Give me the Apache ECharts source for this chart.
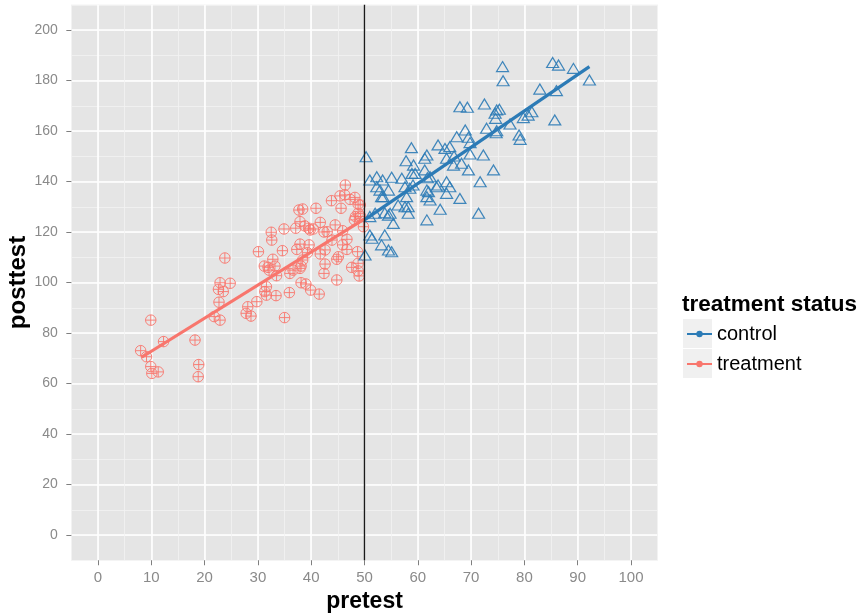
<!DOCTYPE html>
<html>
<head>
<meta charset="utf-8">
<script src="https://cdn.jsdelivr.net/npm/echarts@6/dist/echarts.min.js"></script>
<style>html,body{margin:0;padding:0;background:#fff;}#c{width:861px;height:613px;}</style>
</head>
<body>
<div id="c"></div>
<script>
// ---- data ----
const treatPre = [8.0,9.1,9.9,9.9,10.1,11.3,12.3,18.2,18.9,18.8,23.8,22.9,22.6,23.5,24.8,22.7,21.8,22.9,27.8,28.1,28.7,29.8,30.1,31.6,31.3,31.6,33.4,35.0,35.9,31.2,31.9,32.8,33.2,33.5,32.1,34.6,32.5,32.6,34.9,36.0,36.6,37.3,37.9,37.1,37.9,37.7,38.4,38.1,37.9,38.4,38.1,39.0,39.9,41.5,38.8,39.5,40.4,39.6,39.3,41.7,40.9,41.7,42.6,42.6,42.4,42.4,43.0,44.5,43.9,44.8,45.1,44.8,45.6,43.8,45.4,46.4,46.3,47.3,48.2,45.9,46.7,45.9,48.7,47.6,48.8,48.8,49.0,49.2,48.8,48.3,49.3,49.8,48.1,48.8,46.7,39.8];
const treatPost = [73.0,70.6,85.1,66.7,64.0,64.6,76.6,77.2,67.5,62.7,109.7,99.9,97.3,96.4,99.7,92.2,86.5,85.1,87.8,90.4,86.7,92.4,112.2,98.3,96.4,95.0,94.8,86.1,96.0,106.5,106.0,109.2,106.5,102.7,104.9,112.6,119.9,116.8,121.2,103.6,104.9,113.1,115.2,121.5,124.1,128.7,129.1,106.5,105.6,108.9,99.9,99.4,97.0,95.4,122.4,121.5,121.2,114.9,111.8,123.8,129.4,111.3,112.9,107.3,103.6,120.0,120.1,122.8,116.8,109.2,110.2,101.0,129.4,132.4,134.3,138.6,134.7,132.9,133.7,120.5,117.1,114.9,112.2,106.0,107.6,104.6,102.6,130.7,127.4,126.1,126.1,122.1,124.8,131.0,113.1,120.8];
const ctrlPre = [75.9,76.0,85.3,86.4,89.2,92.2,86.0,82.9,85.7,81.4,80.7,79.8,79.0,79.2,77.3,74.8,75.3,74.6,74.5,72.5,67.9,69.3,72.9,74.8,68.9,67.3,69.5,69.8,66.0,63.8,72.3,65.4,66.8,68.2,69.5,69.8,61.7,61.3,58.8,57.8,59.2,59.5,58.9,61.3,61.8,62.3,74.2,71.7,50.3,51.0,52.3,53.4,55.1,57.0,52.3,52.9,54.5,53.5,53.2,57.6,58.5,59.1,57.9,63.5,65.4,66.0,62.0,61.7,62.3,65.4,67.9,64.2,71.4,61.7,58.2,57.6,56.3,54.8,55.4,53.8,51.0,52.0,53.8,53.2,54.5,55.1,51.0,51.4,50.1,63.8,61.7,74.7,54.5,58.2,65.1,66.7];
const ctrlPost = [185.5,179.9,187.1,186.1,184.8,180.2,176.0,176.6,164.4,167.6,166.3,165.3,158.4,156.7,162.8,168.3,168.6,165.0,167.0,170.7,169.6,169.4,161.1,160.1,160.4,157.7,157.5,155.4,153.8,154.5,150.5,149.2,150.1,147.2,144.6,150.9,150.5,149.2,153.4,148.2,146.5,143.2,143.2,144.6,141.5,141.9,144.6,139.9,149.8,140.6,141.9,140.6,141.7,141.3,137.9,136.6,136.6,134.0,134.0,137.9,137.3,138.6,134.0,137.9,139.9,137.9,136.0,134.0,132.7,135.3,133.3,129.0,127.4,124.8,127.4,130.0,130.7,127.4,123.4,127.6,126.1,127.4,118.8,114.9,112.9,112.2,118.8,117.5,110.9,138.6,136.6,159.3,126.7,130.0,153.1,146.5];
const treatFitX = [8.2, 50.0];
const treatFitY = [70.4, 125.2];
const ctrlFitX = [50.0, 92.2];
const ctrlFitY = [124.8, 185.5];
const cutoff = 50;
const xTicks = [0,10,20,30,40,50,60,70,80,90,100];
const yTicks = [0,20,40,60,80,100,120,140,160,180,200];

// ---- layout ----
const X0 = -5, X1 = 105, Y0 = -10, Y1 = 210;
const PL = 71.35, PT = 4.75, PW = 586.3, PH = 555.5;
const sx = PW / (X1 - X0), sy = PH / (Y1 - Y0);
const RED = '#F8766D', BLUE = '#2C7BB6';
const FONT = '"Liberation Sans", Arial, sans-serif';

const zip = (a, b) => a.map((v, i) => [v, b[i]]);
const circlePlus = 'path://M0,-5A5,5 0 1,1 0,5A5,5 0 1,1 0,-5Z M-5,0L5,0 M0,-5L0,5';

const gridBase = {containLabel: false, outerBoundsMode: 'none'};

const chart = echarts.init(document.getElementById('c'), null, {renderer: 'canvas'});
chart.setOption({
  animation: false,
  backgroundColor: '#fff',
  textStyle: {fontFamily: FONT},
  grid: [
    Object.assign({left: PL, top: PT, width: PW, height: PH, show: true, backgroundColor: '#E5E5E5', borderWidth: 0}, gridBase),
    Object.assign({left: PL + (xTicks[0] - X0) * sx, top: PT, width: (xTicks[xTicks.length-1] - xTicks[0]) * sx, height: PH}, gridBase),
    Object.assign({left: PL, top: PT + (Y1 - yTicks[yTicks.length-1]) * sy, width: PW, height: (yTicks[yTicks.length-1] - yTicks[0]) * sy}, gridBase)
  ],
  xAxis: [
    {gridIndex: 0, type: 'value', min: X0, max: X1, interval: 5,
     axisLine: {show: false, onZero: false}, axisTick: {show: false}, axisLabel: {show: false},
     splitLine: {show: true, lineStyle: {color: '#F2F2F2', width: 0.8}}},
    {gridIndex: 1, type: 'value', min: xTicks[0], max: xTicks[xTicks.length-1], interval: 10,
     position: 'bottom',
     name: 'pretest', nameLocation: 'middle', nameGap: 30,
     nameTextStyle: {fontSize: 23, fontWeight: 'bold', color: '#000', fontFamily: FONT},
     axisLine: {show: false, onZero: false},
     axisTick: {show: true, length: 5, lineStyle: {color: '#7F7F7F', width: 1}},
     axisLabel: {show: true, margin: 10, fontSize: 15, color: '#8A8A8A', fontFamily: FONT},
     splitLine: {show: true, lineStyle: {color: '#FFFFFF', width: 1.6}}},
    {gridIndex: 2, type: 'value', min: X0, max: X1, show: false, axisLine: {onZero: false}}
  ],
  yAxis: [
    {gridIndex: 0, type: 'value', min: Y0, max: Y1, interval: 10,
     axisLine: {show: false, onZero: false}, axisTick: {show: false}, axisLabel: {show: false},
     splitLine: {show: true, lineStyle: {color: '#F2F2F2', width: 0.8}}},
    {gridIndex: 1, type: 'value', min: Y0, max: Y1, show: false, axisLine: {onZero: false}},
    {gridIndex: 2, type: 'value', min: yTicks[0], max: yTicks[yTicks.length-1], interval: 20,
     position: 'left',
     name: 'posttest', nameLocation: 'middle', nameGap: 41, nameRotate: 90, nameMoveOverlap: false,
     nameTextStyle: {fontSize: 24, fontWeight: 'bold', color: '#000', fontFamily: FONT},
     axisLine: {show: false, onZero: false},
     axisTick: {show: true, length: 5, lineStyle: {color: '#7F7F7F', width: 1}},
     axisLabel: {show: true, margin: 13.5, fontSize: 14, color: '#8A8A8A', fontFamily: FONT},
     splitLine: {show: true, lineStyle: {color: '#FFFFFF', width: 1.6}}}
  ],
  title: {text: 'treatment status', left: 682, top: 293, padding: 0,
    textStyle: {fontSize: 22.5, fontWeight: 'bold', color: '#000', fontFamily: FONT}},
  legend: {
    orient: 'vertical', left: 686, top: 324, itemWidth: 25, itemHeight: 8, itemGap: 10, padding: 0,
    data: ['control', 'treatment'],
    textStyle: {fontSize: 20, color: '#000', fontFamily: FONT},
    selectedMode: false
  },
  graphic: [
    {type: 'rect', left: 683, top: 319, shape: {width: 29, height: 29}, style: {fill: '#F0F0F0'}, z: -1},
    {type: 'rect', left: 683, top: 349, shape: {width: 29, height: 29}, style: {fill: '#F0F0F0'}, z: -1}
  ],
  series: [
    {name: 'treatment pts', type: 'scatter', xAxisIndex: 0, yAxisIndex: 0,
     data: zip(treatPre, treatPost), symbol: circlePlus, symbolSize: 10.5,
     itemStyle: {color: 'rgba(0,0,0,0)', borderColor: RED, borderWidth: 1, opacity: 0.9}},
    {name: 'control pts', type: 'scatter', xAxisIndex: 0, yAxisIndex: 0,
     data: zip(ctrlPre, ctrlPost), symbol: 'triangle', symbolSize: [12, 10],
     itemStyle: {color: 'rgba(0,0,0,0)', borderColor: BLUE, borderWidth: 1.2, opacity: 0.9}},
    {name: 'control', type: 'line', xAxisIndex: 0, yAxisIndex: 0,
     data: zip(ctrlFitX, ctrlFitY), showSymbol: false, symbol: 'circle', symbolSize: 6,
     lineStyle: {color: BLUE, width: 3.2}, itemStyle: {color: BLUE}, z: 3},
    {name: 'treatment', type: 'line', xAxisIndex: 0, yAxisIndex: 0,
     data: zip(treatFitX, treatFitY), showSymbol: false, symbol: 'circle', symbolSize: 6,
     lineStyle: {color: RED, width: 3.2}, itemStyle: {color: RED}, z: 3,
     markLine: {silent: true, symbol: 'none', label: {show: false},
       lineStyle: {color: '#1a1a1a', width: 1.4, type: 'solid'},
       data: [{xAxis: cutoff}]}}
  ]
});
</script>
</body>
</html>
